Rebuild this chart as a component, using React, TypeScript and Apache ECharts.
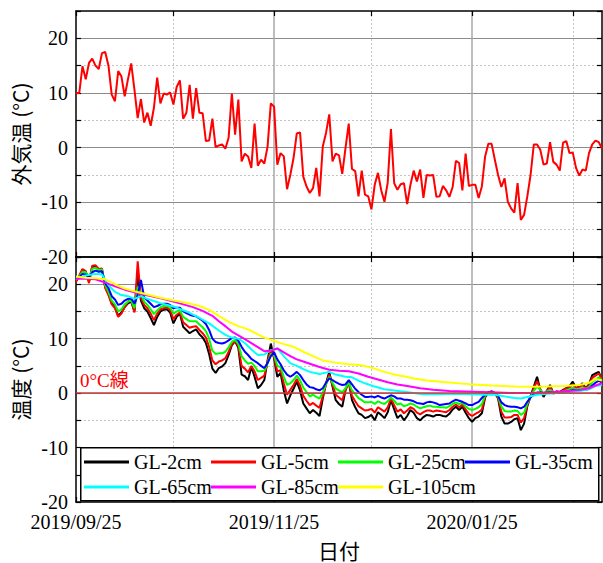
import React, { useEffect, useRef } from "react";
import * as echarts from "echarts";

// ---- x categories: one per day ----
const START_DATE = Date.UTC(2019, 8, 25);
const DAY_COUNT = 163;
const pad = (n: number) => String(n).padStart(2, "0");
const dates: string[] = Array.from({ length: DAY_COUNT }, (_, i) => {
  const d = new Date(START_DATE + i * 86400000);
  return `${d.getUTCFullYear()}/${pad(d.getUTCMonth() + 1)}/${pad(d.getUTCDate())}`;
});

// labelled (solid grid) and unlabelled (dotted grid) month marks
const labelDates = ["2019/09/25", "2019/11/25", "2020/01/25"];
const majorGridDates = ["2019/11/25", "2020/01/25"];
const minorGridDates = ["2019/10/25", "2019/12/25", "2020/02/25"];
const tickDates = [...labelDates, ...minorGridDates];

// ---- 外気温 (daily) ----
const airTemp = [
  10.0, 10.0, 14.9, 12.5, 15.5, 16.3, 15.0, 14.4, 17.3, 17.5,
  15.0, 9.7, 8.5, 14.0, 13.0, 9.4, 12.5, 15.4, 10.6, 5.4,
  8.9, 4.6, 6.4, 4.0, 7.3, 12.8, 8.1, 9.9, 9.7, 10.1,
  7.9, 11.1, 12.3, 5.3, 6.4, 11.5, 5.3, 10.9, 6.4, 6.3,
  1.2, 1.3, 5.3, 0.1, 0.4, 0.6, -0.2, 1.8, 9.9, 2.4,
  8.8, -2.5, -1.1, -1.6, -3.7, 4.4, -3.3, -2.2, -2.9, 0.2,
  8.1, 7.5, -3.1, -1.0, -1.6, -7.6, -5.0, -1.9, 2.6, 2.8,
  -5.3, -7.1, -8.3, -7.4, -3.7, -8.9, 0.2, 2.7, 6.1, -2.5,
  -1.1, -1.4, -4.8, -0.1, 4.4, -3.9, -4.3, -8.9, -4.2, -8.6,
  -8.9, -11.3, -6.8, -4.6, -7.8, -9.9, -6.4, 3.4, -6.5, -7.7,
  -6.7, -6.5, -10.3, -6.8, -4.2, -6.2, -4.0, -9.2, -5.0, -5.1,
  -5.0, -9.0, -8.9, -7.0, -7.8, -9.0, -7.2, -2.4, -2.8, -7.8,
  -1.1, -7.0, -6.8, -6.8, -9.2, -7.1, -1.6, 0.7, 0.7, -2.2,
  -5.0, -7.2, -5.6, -9.9, -11.1, -11.9, -6.5, -13.2, -12.3, -8.9,
  -5.0, 0.6, 0.6, -0.4, -3.1, -2.9, 1.0, -2.6, -3.1, -4.2,
  0.9, 1.2, -1.0, -0.9, -3.7, -5.1, -4.0, -4.2, -1.0, 0.6,
  1.3, 1.0, -0.1,
];

// ---- 地中温度 (daily, shallow depths) ----
const gl2 = [
  20.6, 21.4, 22.6, 22.3, 20.5, 23.2, 23.3, 22.6, 22.7, 19.5,
  18.2, 16.5, 15.8, 14.2, 14.8, 15.8, 16.5, 16.8, 15.0, 21.8,
  17.0, 15.6, 15.0, 13.8, 12.5, 14.0, 15.0, 15.3, 15.4, 14.8,
  12.8, 14.0, 14.6, 12.2, 11.6, 11.0, 11.4, 11.7, 10.8, 10.2,
  9.2, 7.2, 4.5, 3.7, 4.6, 4.9, 5.5, 7.0, 8.8, 9.5,
  8.3, 3.4, 3.1, 2.4, 4.8, 3.0, 0.9, 1.5, 2.4, 6.0,
  9.1, 6.4, 3.0, 3.7, 0.5, -1.9, -0.4, 0.8, 2.1, 0.5,
  -1.9, -2.8, -3.7, -3.1, -3.6, -4.2, -1.0, 1.8, 3.9, 1.2,
  -1.3, -2.0, -2.5, 0.5, 2.1, -1.3, -2.6, -3.7, -4.0, -4.6,
  -4.4, -4.0, -5.0, -3.5, -4.0, -4.6, -3.5, -1.3, -3.0, -4.6,
  -4.0, -5.0, -4.2, -3.1, -3.6, -4.6, -5.0, -4.4, -4.0, -4.1,
  -4.3, -4.0, -4.0, -4.2, -4.3, -3.8, -3.0, -2.5, -3.1, -2.5,
  -3.6, -4.6, -5.3, -4.6, -4.3, -3.7, -0.8, 0.1, 0.3, 0.0,
  -1.0, -4.3, -5.6, -5.6, -5.3, -4.8, -4.6, -6.8, -5.6, -2.4,
  -0.6, 1.2, 3.0, 0.6, -0.7, 0.4, 1.5, -0.1, 0.3, 0.2,
  0.6, 0.9, 1.3, 2.1, 0.9, 1.2, 1.8, 0.9, 1.6, 3.3,
  3.6, 3.9, 2.4,
];
const gl5 = [
  20.4, 21.6, 22.8, 22.4, 20.2, 23.4, 23.5, 22.8, 22.9, 19.3,
  18.0, 16.3, 15.6, 14.0, 14.6, 15.8, 16.8, 17.2, 14.8, 24.2,
  17.5, 16.2, 15.6, 14.6, 13.4, 14.6, 15.4, 15.6, 15.7, 15.3,
  13.6, 14.4, 14.8, 13.0, 12.5, 12.0, 12.2, 12.3, 11.6, 11.0,
  10.2, 8.5, 6.0, 5.3, 5.8, 6.0, 6.4, 7.6, 9.0, 9.6,
  8.6, 5.0, 4.5, 3.8, 5.0, 4.0, 2.4, 2.8, 3.2, 5.8,
  8.0, 6.6, 4.0, 4.2, 1.8, -0.3, 0.6, 1.5, 2.6, 1.4,
  -0.5, -1.4, -2.2, -1.8, -2.3, -2.7, -0.6, 1.6, 3.4, 1.5,
  -0.3, -0.8, -1.3, 0.6, 1.9, -0.5, -1.5, -2.4, -2.8, -3.2,
  -3.1, -2.9, -3.6, -2.6, -3.0, -3.4, -2.6, -1.0, -2.2, -3.4,
  -3.0, -3.7, -3.2, -2.6, -2.9, -3.6, -3.9, -3.5, -3.2, -3.2,
  -3.4, -3.2, -3.3, -3.4, -3.5, -3.1, -2.5, -2.1, -2.6, -2.1,
  -3.0, -3.8, -4.2, -3.8, -3.5, -3.0, -0.6, 0.1, 0.3, 0.0,
  -0.8, -3.4, -4.5, -4.5, -4.4, -4.0, -4.0, -5.4, -4.6, -2.2,
  -0.6, 0.9, 2.2, 0.7, -0.3, 0.4, 1.1, 0.1, 0.3, 0.2,
  0.5, 0.8, 1.0, 1.6, 0.9, 1.1, 1.5, 0.9, 1.4, 2.8,
  3.2, 3.6, 2.6,
];
const gl25 = [
  20.8, 21.4, 22.3, 22.2, 21.0, 22.8, 23.0, 22.6, 22.7, 19.8,
  18.6, 17.0, 16.3, 15.0, 15.4, 16.3, 16.8, 17.0, 15.6, 19.5,
  18.4, 16.8, 16.2, 15.4, 14.5, 15.2, 15.8, 16.0, 16.0, 15.8,
  14.6, 15.0, 15.2, 14.0, 13.6, 13.2, 13.2, 13.2, 12.6, 12.1,
  11.4, 10.0, 7.8, 7.2, 7.3, 7.3, 7.6, 8.4, 9.4, 9.8,
  9.0, 6.8, 6.0, 5.4, 5.6, 5.0, 4.0, 4.0, 4.1, 5.5,
  7.2, 7.0, 5.0, 4.8, 3.0, 1.5, 1.8, 2.4, 3.2, 2.4,
  1.0, 0.2, -0.6, -0.3, -0.7, -1.0, 0.1, 1.6, 3.0, 1.9,
  0.8, 0.5, 0.1, 0.9, 1.9, 0.5, -0.2, -0.9, -1.3, -1.7,
  -1.7, -1.6, -2.0, -1.5, -1.8, -2.0, -1.5, -0.8, -1.4, -2.1,
  -1.9, -2.4, -2.2, -1.9, -2.1, -2.5, -2.8, -2.6, -2.4, -2.3,
  -2.5, -2.5, -2.6, -2.6, -2.7, -2.4, -2.0, -1.7, -2.0, -1.8,
  -2.4, -2.9, -3.1, -2.9, -2.6, -2.0, -0.4, 0.1, 0.2, 0.0,
  -0.6, -2.4, -3.3, -3.4, -3.4, -3.2, -3.3, -4.0, -3.6, -1.9,
  -0.7, 0.4, 1.2, 0.6, 0.0, 0.3, 0.6, 0.2, 0.2, 0.1,
  0.3, 0.5, 0.7, 1.0, 0.7, 0.8, 1.0, 0.8, 1.1, 2.0,
  2.5, 2.9, 2.3,
];
const gl35 = [
  21.0, 21.3, 21.9, 21.8, 21.3, 22.2, 22.5, 22.3, 22.4, 20.2,
  19.3, 17.8, 17.2, 16.2, 16.4, 17.0, 17.3, 17.4, 16.4, 18.0,
  20.8, 17.6, 17.0, 16.4, 15.8, 16.0, 16.3, 16.4, 16.4, 16.2,
  15.6, 15.7, 15.7, 15.0, 14.7, 14.4, 14.2, 14.1, 13.7, 13.3,
  12.7, 11.6, 10.0, 9.4, 9.2, 9.1, 9.3, 9.7, 10.1, 10.2,
  9.6, 8.5, 7.6, 7.0, 6.3, 5.9, 5.5, 5.0, 4.6, 5.5,
  6.8, 7.5, 6.2, 5.3, 4.2, 3.4, 3.0, 3.4, 3.9, 3.3,
  2.4, 1.6, 1.1, 1.0, 0.7, 0.5, 0.9, 1.9, 2.7, 2.4,
  2.0, 1.7, 1.5, 1.6, 2.4, 1.6, 0.8, 0.2, -0.3, -0.7,
  -0.7, -0.6, -0.8, -0.5, -0.8, -1.0, -0.7, -0.4, -0.6, -1.0,
  -1.0, -1.2, -1.2, -1.3, -1.5, -1.8, -1.9, -2.0, -1.7, -1.6,
  -1.7, -1.9, -2.2, -2.1, -2.0, -1.9, -1.5, -1.2, -1.4, -1.6,
  -1.9, -2.2, -2.2, -1.9, -1.6, -0.9, -0.3, 0.2, 0.2, 0.0,
  -0.5, -1.7, -2.2, -2.4, -2.5, -2.5, -2.6, -2.8, -2.5, -1.6,
  -0.8, -0.2, 0.1, 0.1, 0.0, 0.1, 0.2, 0.1, 0.1, 0.0,
  0.2, 0.3, 0.4, 0.6, 0.5, 0.5, 0.6, 0.6, 0.8, 1.4,
  1.9, 2.3, 1.9,
];

// ---- 地中温度 (deeper depths, [day index, value]) ----
const gl65: [number, number][] = [
  [0, 21.0], [3, 21.6], [6, 21.9], [8, 21.8], [10, 19.8], [12, 18.6], [14, 18.0],
  [16, 17.8], [18, 17.3], [20, 17.8], [22, 17.3], [26, 16.5], [30, 15.9], [34, 15.0],
  [38, 13.8], [41, 12.8], [44, 11.5], [46, 10.7], [48, 10.2], [50, 10.0], [52, 9.2],
  [54, 8.0], [56, 7.0], [58, 7.1], [60, 7.9], [62, 8.2], [64, 6.8], [66, 5.5],
  [68, 5.0], [70, 4.4], [72, 3.9], [75, 3.5], [78, 3.9], [80, 3.4], [83, 3.0],
  [85, 2.9], [87, 2.3], [89, 1.8], [92, 1.2], [95, 0.7], [98, 0.5], [101, 0.25],
  [104, 0.0], [107, -0.2], [112, -0.2], [117, -0.1], [121, -0.2], [126, -0.3],
  [129, -0.3], [132, -0.6], [135, -0.9], [137, -1.0], [139, -0.7], [142, -0.3],
  [145, -0.1], [148, 0.0], [152, 0.2], [155, 0.4], [158, 0.7], [160, 1.3], [162, 1.5],
];
const gl85: [number, number][] = [
  [0, 21.0], [3, 21.0], [6, 20.9], [9, 20.3], [12, 19.6], [15, 19.0], [18, 18.5],
  [20, 18.2], [24, 17.7], [27, 17.3], [30, 16.8], [33, 16.3], [36, 15.8], [39, 15.1],
  [42, 14.2], [44, 13.2], [46, 12.3], [48, 11.3], [50, 10.6], [52, 9.9], [55, 8.8],
  [58, 7.7], [60, 7.8], [62, 8.2], [64, 7.5], [66, 6.8], [68, 6.2], [70, 5.8],
  [72, 5.4], [75, 4.8], [78, 4.3], [81, 4.1], [84, 4.0], [87, 3.6], [90, 3.0],
  [93, 2.5], [96, 2.0], [99, 1.6], [102, 1.3], [106, 0.9], [110, 0.6], [115, 0.4],
  [120, 0.3], [125, 0.2], [130, 0.1], [135, 0.0], [140, 0.0], [145, 0.1], [150, 0.3],
  [155, 0.55], [158, 0.9], [160, 1.4], [162, 1.8],
];
const gl105: [number, number][] = [
  [0, 21.4], [3, 21.2], [6, 21.1], [9, 20.9], [12, 20.0], [15, 19.2], [18, 18.7],
  [22, 18.1], [26, 17.5], [30, 17.0], [34, 16.6], [38, 16.0], [41, 15.3], [44, 14.2],
  [47, 13.1], [50, 12.3], [53, 11.7], [56, 10.8], [58, 10.2], [61, 9.6], [64, 9.0],
  [67, 8.5], [70, 7.6], [73, 6.8], [76, 6.0], [80, 5.6], [84, 5.3], [88, 5.1],
  [92, 4.5], [95, 3.9], [98, 3.4], [101, 3.1], [104, 2.7], [108, 2.3], [114, 2.0],
  [121, 1.65], [128, 1.4], [135, 1.2], [140, 1.15], [145, 1.2], [150, 1.3],
  [155, 1.5], [158, 1.9], [160, 2.6], [162, 2.3],
];

const depthNames = ["GL-2cm", "GL-5cm", "GL-25cm", "GL-35cm", "GL-65cm", "GL-85cm", "GL-105cm"];
const depthColors = ["#000000", "#ff0000", "#00ff00", "#0000ff", "#00ffff", "#ff00ff", "#ffff00"];

const SERIF = "'Liberation Serif', 'Times New Roman', serif";
const CJK = "'Noto Sans CJK JP', 'Noto Sans', sans-serif";

const Y_MIN = -20;
const Y_MAX = 25;

function buildOption() {
  const panels = [
    { top: 11, height: 246, name: "外気温 (°C)" },
    { top: 257, height: 245, name: "温度 (°C)" },
  ];

  const grid = panels.map((p) => ({ left: 76, width: 526, top: p.top, height: p.height }));

  const frameLine = { show: true, onZero: false, lineStyle: { color: "#000", width: 1.5 } };
  const xTick = {
    show: true,
    inside: true,
    length: 5,
    interval: (_: number, v: string) => tickDates.includes(v),
    lineStyle: { color: "#000", width: 1.2 },
  };

  const xAxis: any[] = [];
  panels.forEach((_, g) => {
    // dotted month lines + top frame
    xAxis.push({
      type: "category",
      gridIndex: g,
      position: "top",
      data: dates,
      boundaryGap: false,
      axisLine: frameLine,
      axisTick: xTick,
      axisLabel: { show: false },
      splitLine: {
        show: true,
        interval: (_: number, v: string) => minorGridDates.includes(v),
        lineStyle: { color: "#c4c4c4", type: [2, 2], width: 1 },
      },
    });
    // solid month lines + bottom frame
    xAxis.push({
      type: "category",
      gridIndex: g,
      position: "bottom",
      data: dates,
      boundaryGap: false,
      axisLine: frameLine,
      axisTick: xTick,
      axisLabel:
        g === 1
          ? {
              show: true,
              interval: (_: number, v: string) => labelDates.includes(v),
              fontFamily: SERIF,
              fontSize: 20,
              color: "#000",
              margin: 10,
            }
          : { show: false },
      splitLine: {
        show: true,
        interval: (_: number, v: string) => majorGridDates.includes(v),
        lineStyle: { color: "#a8a8a8", width: 1.5 },
      },
      name: g === 1 ? "日付" : undefined,
      nameLocation: "middle",
      nameGap: 37,
      nameTextStyle: { fontFamily: CJK, fontSize: 21, color: "#000" },
    });
  });

  const yAxis: any[] = [];
  panels.forEach((p, g) => {
    // every-5 ticks with dotted lines (left)
    yAxis.push({
      type: "value",
      gridIndex: g,
      position: "left",
      min: Y_MIN,
      max: Y_MAX,
      interval: 5,
      axisLine: frameLine,
      axisTick: { show: true, inside: true, length: 5, lineStyle: { color: "#000", width: 1.2 } },
      axisLabel: { show: false },
      splitLine: {
        show: true,
        showMinLine: false,
        showMaxLine: false,
        lineStyle: { color: "#c4c4c4", type: [2, 2], width: 1 },
      },
    });
    // labelled axis with solid lines every 10
    yAxis.push({
      type: "value",
      gridIndex: g,
      position: "left",
      min: Y_MIN,
      max: Y_MAX,
      interval: 10,
      axisLine: { show: false },
      axisTick: { show: false },
      axisLabel: {
        show: true,
        fontFamily: SERIF,
        fontSize: 20,
        color: "#000",
        margin: 8,
        formatter: (v: number) => (v > 20 ? "" : String(v)),
      },
      splitLine: {
        show: true,
        showMinLine: false,
        showMaxLine: false,
        lineStyle: { color: "#8c8c8c", width: 1 },
      },
      name: p.name,
      nameLocation: "middle",
      nameRotate: 90,
      nameGap: 43,
      nameTextStyle: { fontFamily: CJK, fontSize: 21, color: "#000" },
    });
    // right frame with ticks
    yAxis.push({
      type: "value",
      gridIndex: g,
      position: "right",
      min: Y_MIN,
      max: Y_MAX,
      interval: 5,
      axisLine: frameLine,
      axisTick: { show: true, inside: true, length: 5, lineStyle: { color: "#000", width: 1.2 } },
      axisLabel: { show: false },
      splitLine: { show: false },
    });
  });

  const line = (name: string, color: string, data: any[], extra: any = {}) => ({
    type: "line",
    name,
    xAxisIndex: 3,
    yAxisIndex: 4,
    data,
    symbol: "none",
    showSymbol: false,
    lineStyle: { color, width: 2 },
    itemStyle: { color },
    ...extra,
  });

  const pairs = (arr: [number, number][]) => arr.map(([d, v]) => [dates[d], v]);

  const series: any[] = [
    {
      type: "line",
      name: "外気温",
      xAxisIndex: 1,
      yAxisIndex: 1,
      data: airTemp,
      symbol: "none",
      lineStyle: { color: "#ff0000", width: 2 },
      itemStyle: { color: "#ff0000" },
    },
    line(depthNames[0], depthColors[0], gl2, {
      markLine: {
        silent: true,
        symbol: ["none", "none"],
        data: [{ yAxis: 0 }],
        lineStyle: { color: "#c83c3c", width: 1.5, type: "solid" },
        label: {
          show: true,
          formatter: "0°C線",
          position: "insideStartTop",
          color: "#ff0000",
          fontSize: 19,
          fontFamily: SERIF + ", " + CJK,
          distance: [4, 3],
        },
      },
    }),
    line(depthNames[1], depthColors[1], gl5),
    line(depthNames[2], depthColors[2], gl25),
    line(depthNames[3], depthColors[3], gl35),
    line(depthNames[4], depthColors[4], pairs(gl65)),
    line(depthNames[5], depthColors[5], pairs(gl85)),
    line(depthNames[6], depthColors[6], pairs(gl105)),
  ];

  // legend laid out as a 4-column table: one vertical legend per column
  const columnLefts = [84, 211, 338, 465];
  const legends = columnLefts.map((left, c) => ({
    orient: "vertical",
    left,
    top: 452,
    itemWidth: 45,
    itemHeight: 3,
    itemGap: 5,
    icon: "rect",
    padding: 0,
    z: 20,
    selectedMode: false,
    textStyle: { fontFamily: SERIF, fontSize: 20, color: "#000", lineHeight: 20 },
    data: depthNames.filter((_, i) => i % 4 === c),
  }));

  return {
    animation: false,
    backgroundColor: "#ffffff",
    grid,
    xAxis,
    yAxis,
    series,
    legend: legends,
    graphic: [
      {
        type: "rect",
        left: 80,
        top: 447,
        z: 15,
        shape: { width: 518, height: 53 },
        style: { fill: "#ffffff", stroke: "#000000", lineWidth: 1.5 },
      },
    ],
  };
}

export default function App() {
  const ref = useRef<HTMLDivElement>(null);
  useEffect(() => {
    if (!ref.current) return;
    const chart = echarts.init(ref.current, undefined, { renderer: "svg" });
    chart.setOption(buildOption() as any);
    return () => chart.dispose();
  }, []);
  return (
    <div
      ref={ref}
      style={{ position: "absolute", left: 0, top: 0, width: 603, height: 563, background: "#fff" }}
    />
  );
}
